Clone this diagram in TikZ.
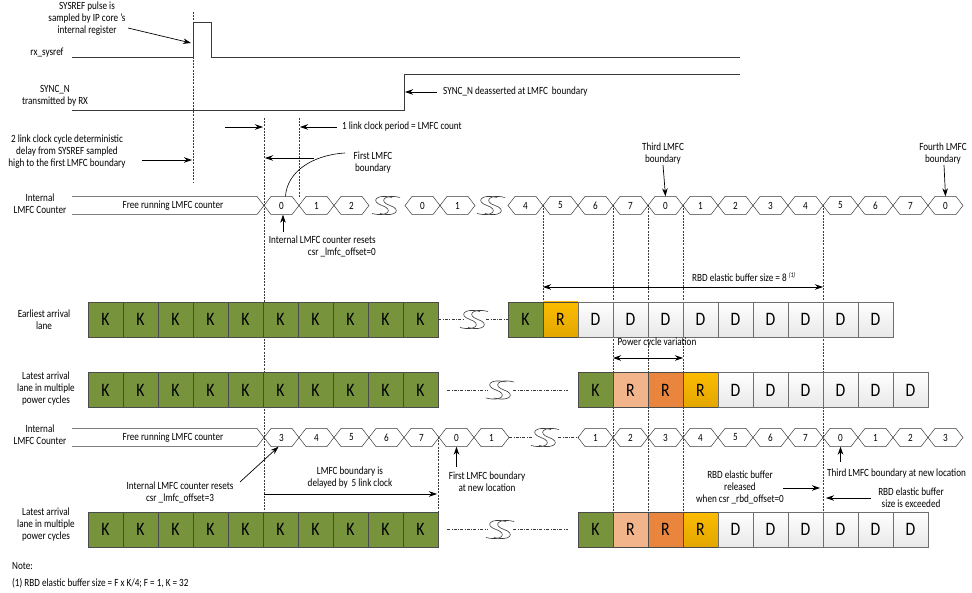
\documentclass[tikz,border=0pt]{standalone}
\usepackage{fontspec}
\setmainfont{Carlito}[FakeStretch=0.83]
\usetikzlibrary{arrows.meta, calc, positioning}
\definecolor{kGreen}{HTML}{77933C}
\definecolor{kEdge}{HTML}{4A4A4A}
\definecolor{rYellow}{HTML}{FBBC00}
\definecolor{rYellowDk}{HTML}{E3A600}
\definecolor{rLight}{HTML}{F2B48A}
\definecolor{rOrange}{HTML}{E9853C}
\definecolor{dGrey}{HTML}{E8E8E8}
\definecolor{lineGrey}{HTML}{3A3A3A}
\tikzset{
  sig/.style      = {line width=0.7pt, lineGrey},
  bus/.style      = {line width=0.5pt, lineGrey},
  guide/.style    = {dash pattern=on 2pt off 1.2pt, line width=0.4pt, lineGrey},
  dashdot/.style  = {dash pattern=on 3pt off 1.5pt on 0.6pt off 1.5pt, line width=0.4pt, lineGrey},
  pointer/.style  = {-{Stealth[length=8pt,width=5.5pt]}, line width=0.7pt, black},
  twoway/.style   = {{Stealth[length=8pt,width=5.5pt]}-{Stealth[length=8pt,width=5.5pt]},
                     line width=0.7pt, black},
  lbl/.style      = {font=\fontsize{11}{12}\selectfont, align=center, inner sep=0pt},
  hexlbl/.style   = {font=\fontsize{11}{12}\selectfont, inner sep=0pt, minimum height=18pt},
  cellbox/.style  = {draw=kEdge, line width=0.6pt, minimum width=35pt, minimum height=35pt,
                     inner sep=0pt, font=\fontsize{19}{19}\selectfont},
  kbox/.style     = {cellbox, fill=kGreen},
  rbox/.style     = {cellbox, top color=rYellow, bottom color=rYellowDk},
  rlbox/.style    = {cellbox, fill=rLight},
  robox/.style    = {cellbox, fill=rOrange},
  dbox/.style     = {cellbox, draw=kEdge!80, top color=white, bottom color=dGrey},
}
% break mark on a time axis
\newcommand{\squig}[2]{%
  \foreach \dx in {-4,4}{%
    \draw[line width=0.6pt, lineGrey] (#1+\dx+10,#2-8) .. controls (#1+\dx-6,#2-12) and (#1+\dx-12,#2-4) .. (#1+\dx,#2)
      .. controls (#1+\dx+12,#2+4) and (#1+\dx+6,#2+12) .. (#1+\dx-10,#2+8);}}

\begin{document}
\begin{tikzpicture}[x=1pt,y=-1pt]
  \useasboundingbox (0,0) rectangle (972,593);

  % boundary guides
  \draw[guide] (193,12) -- (193,183);
  \foreach \x/\a/\b in {264/118/512, 299/118/197, 543/205/302, 613/205/512,
                        648/205/512, 683/205/512, 823/205/512, 438/437/512}
    \draw[guide] (\x,\a) -- (\x,\b);

  % rx_sysref and SYNC_N
  \node[lbl] (sysreflbl) at (47,53) {rx\_sysref};
  \draw[sig] (72,57) -- (193,57) -- (193,22) -- (211,22) -- (211,57) -- (740,57);
  \node[lbl] (synclbl) at (55,96) {SYNC\_N\\transmitted by RX};
  \draw[sig] (72,110) -- (404,110) -- (404,74) -- (740,74);

  \node[lbl] (sampnote) at (87,19) {SYSREF pulse is\\sampled by IP core 's\\internal register};
  \coordinate (samphit) at (191,43);
  \draw[pointer] (128,28) -- (samphit);

  \node[lbl, anchor=west] (deassert) at (443,92) {SYNC\_N deasserted at LMFC\, boundary};
  \coordinate (synchit) at (405,92);
  \draw[pointer] ([xshift=-6]deassert.west) -- (synchit);

  \node[lbl] (delaynote) at (67,152) {2 link clock cycle deterministic\\delay from SYSREF sampled\\high to the first LMFC boundary};
  \coordinate (delayhit) at (192,160);
  \draw[pointer] (142,160) -- (delayhit);

  % one link clock period
  \coordinate (lcpL) at (263,127);
  \coordinate (lcpR) at (300,127);
  \draw[pointer] (225,127) -- (lcpL);
  \node[lbl, anchor=west] (lcp) at (342,127) {1 link clock period = LMFC count};
  \draw[pointer] ([xshift=-5]lcp.west) -- (lcpR);
  \coordinate (firsthit) at (265,158);
  \draw[pointer] (314,158) -- (firsthit);

  % first LMFC counter
  \node[lbl] (cntA) at (40,204) {Internal\\LMFC Counter};
  \draw[bus] (72,196.5) -- (257,196.5) -- (264,205.5) -- (257,214.5) -- (72,214.5);
  \node[lbl] (freeA) at (173,205.5) {Free running LMFC counter};
  \foreach \x/\v [count=\i] in {264/0, 299/1, 334/2, 405/0, 440/1, 508/4, 543/5, 578/6, 613/7,
                                648/0, 683/1, 718/2, 753/3, 788/4, 823/5, 858/6, 893/7, 928/0} {
    \draw[bus] (\x,205.5) -- ++(7,-9) -- ++(21,0) -- ++(7,9) -- ++(-7,9) -- ++(-21,0) -- cycle;
    \node[hexlbl] (ua\i) at (\x+17.5,205.5) {\v};
  }
  \squig{386}{205.5}
  \squig{491}{205.5}

  \node[lbl] (firstb) at (373,163) {First LMFC\\boundary};
  \draw[line width=0.6pt] ([xshift=4]ua1.north) .. controls (287,172) and (312,155) .. (345,153);
  \node[lbl, align=right, anchor=north east] (reset0) at (376,236)
    {Internal LMFC counter resets\\csr \_lmfc\_offset=0};
  \draw[pointer] (283,232) -- ([xshift=1.5]ua1.south);
  \node[lbl] (thirdb) at (663,154) {Third LMFC\\boundary};
  \draw[pointer] (thirdb.south) -- (ua10.north);
  \node[lbl] (fourthb) at (943,154) {Fourth LMFC\\boundary};
  \draw[pointer] ([xshift=1]fourthb.south) -- (ua18.north);

  % buffer size
  \coordinate (rbdL) at (543,287);
  \coordinate (rbdR) at (823,287);
  \draw[twoway] (rbdL) -- (rbdR);
  \node[lbl, anchor=west] (rbdsize) at (692,277)
    {RBD elastic buffer size = 8 \raisebox{4pt}{\fontsize{7}{7}\selectfont\itshape (1)}};

  % earliest arrival lane
  \node[lbl] (earlbl) at (44,320) {Earliest arrival\\lane};
  \foreach \x [count=\i] in {88,123,...,403}
    \node[kbox] (ea\i) at (\x+17.5,319.5) {K};
  \draw[dashdot] (ea10.east) -- (463,319.5);
  \draw[dashdot] (486,319.5) -- (508,319.5);
  \squig{474}{319.5}
  \node[kbox] (eaK) at (525.5,319.5) {K};
  \node[rbox] (eaR) at (560.5,319.5) {R};
  \foreach \x [count=\i] in {578,613,...,858}
    \node[dbox] (eaD\i) at (\x+17.5,319.5) {D};

  % power cycle variation
  \node[lbl] (pcv) at (657,343) {Power cycle variation};
  \coordinate (pcvL) at (613,358);
  \coordinate (pcvR) at (683,358);
  \draw[twoway] (pcvL) -- (pcvR);

  % latest arrival lane
  \node[lbl] (latlblA) at (46,389) {Latest arrival\\lane in multiple\\power cycles};
  \foreach \x [count=\i] in {88,123,...,403}
    \node[kbox] (lb\i) at (\x+17.5,390) {K};
  \draw[dashdot] (447,390) -- (488,390);
  \draw[dashdot] (513,390) -- (568,390);
  \squig{500}{390}
  \node[kbox] (lbK) at (595.5,390) {K};
  \node[rlbox] (lbR1) at (630.5,390) {R};
  \node[robox] (lbR2) at (665.5,390) {R};
  \node[rbox] (lbR3) at (700.5,390) {R};
  \foreach \x [count=\i] in {718,753,...,893}
    \node[dbox] (lbD\i) at (\x+17.5,390) {D};

  % second LMFC counter
  \node[lbl] (cntB) at (40,435) {Internal\\LMFC Counter};
  \draw[bus] (72,428.5) -- (257,428.5) -- (264,437.5) -- (257,446.5) -- (72,446.5);
  \node[lbl] (freeB) at (173,437.5) {Free running LMFC counter};
  \foreach \x/\v [count=\i] in {264/3, 299/4, 334/5, 369/6, 404/7, 439/0, 474/1, 578/1, 613/2,
                                648/3, 683/4, 718/5, 753/6, 788/7, 823/0, 858/1, 893/2, 928/3} {
    \draw[bus] (\x,437.5) -- ++(7,-9) -- ++(21,0) -- ++(7,9) -- ++(-7,9) -- ++(-21,0) -- cycle;
    \node[hexlbl] (ub\i) at (\x+17.5,437.5) {\v};
  }
  \draw[dashdot] (509,437.5) -- (533,437.5);
  \draw[dashdot] (558,437.5) -- (578,437.5);
  \squig{545}{437.5}

  \node[lbl] (reset3) at (180,492) {Internal LMFC counter resets\\csr \_lmfc\_offset=3};
  \draw[pointer] (240,482) -- ([xshift=-3]ub1.south);
  \node[lbl] (delayed) at (350,478) {LMFC boundary is\\delayed by\, 5 link clock};
  \coordinate (delayL) at (264,494);
  \coordinate (delayR) at (437,494);
  \draw[pointer] (delayL) -- (delayR);
  \node[lbl] (firstnew) at (487,482) {First LMFC boundary\\at new location};
  \draw[pointer] (456.5,467) -- (ub6.south);
  \node[lbl, anchor=west] (thirdnew) at (827,474) {Third LMFC boundary at new location};
  \draw[pointer] (840.5,462) -- (ub15.south);
  \node[lbl] (released) at (740,487) {RBD elastic buffer\\released\\when csr \_rbd\_offset=0};
  \coordinate (relhit) at (820,488);
  \draw[pointer] (783,488) -- (relhit);
  \node[lbl] (exceeded) at (911,498) {RBD elastic buffer\\size is exceeded};
  \coordinate (exchit) at (826,498);
  \draw[pointer] (871,498) -- (exchit);

  % latest arrival lane, new location
  \node[lbl] (latlblB) at (46,525) {Latest arrival\\lane in multiple\\power cycles};
  \foreach \x [count=\i] in {88,123,...,403}
    \node[kbox] (lc\i) at (\x+17.5,529.5) {K};
  \draw[dashdot] (447,529.5) -- (488,529.5);
  \draw[dashdot] (513,529.5) -- (568,529.5);
  \squig{500}{529.5}
  \node[kbox] (lcK) at (595.5,529.5) {K};
  \node[rlbox] (lcR1) at (630.5,529.5) {R};
  \node[robox] (lcR2) at (665.5,529.5) {R};
  \node[rbox] (lcR3) at (700.5,529.5) {R};
  \foreach \x [count=\i] in {718,753,...,893}
    \node[dbox] (lcD\i) at (\x+17.5,529.5) {D};

  % note
  \node[lbl, anchor=west] (notehead) at (12,566) {Note:};
  \node[lbl, anchor=west] (notebody) at (12,583) {(1) RBD elastic buffer size = F x K/4; F = 1, K = 32};
\end{tikzpicture}
\end{document}
